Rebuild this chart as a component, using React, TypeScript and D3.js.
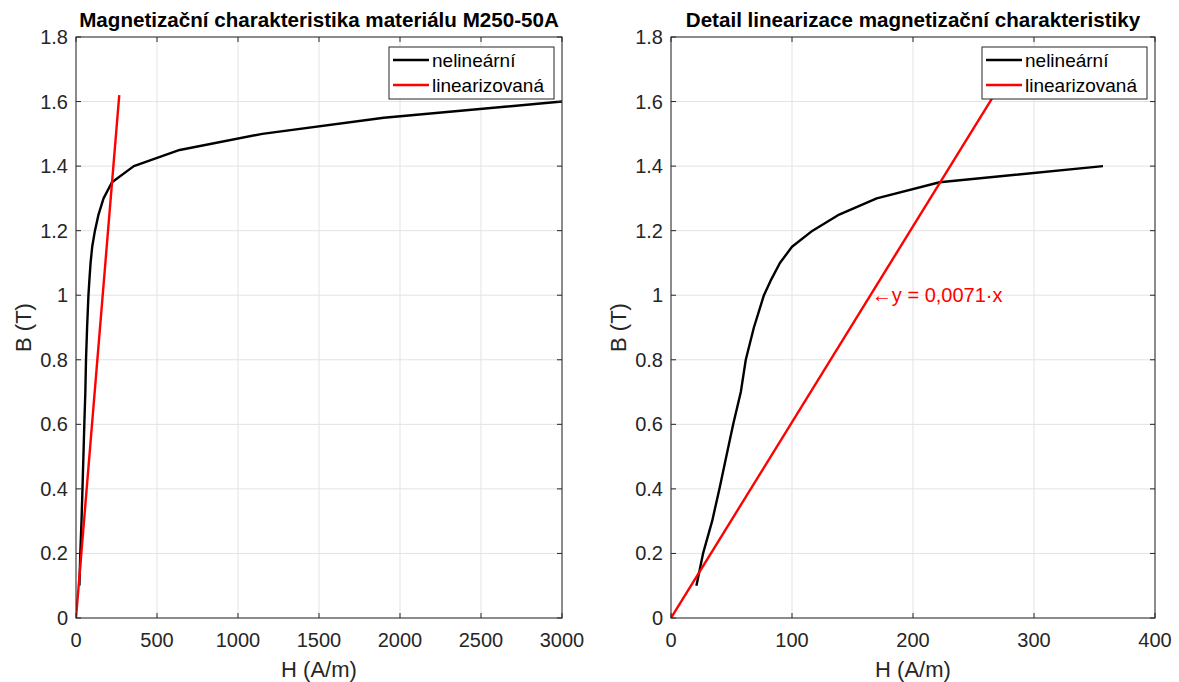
import React from 'react';
import * as d3 from 'd3';

// B-H curve of M250-50A
const hNonlin = [21, 26.5, 34, 40, 45.7, 51.4, 57.7, 61.8, 68.5, 76.8, 83, 90, 100, 117, 139, 170, 222, 357, 640, 1150, 1900, 3000];
const bNonlin = [0.1, 0.2, 0.3, 0.4, 0.5, 0.6, 0.7, 0.8, 0.9, 1.0, 1.05, 1.1, 1.15, 1.2, 1.25, 1.3, 1.35, 1.4, 1.45, 1.5, 1.55, 1.6];

// linearised characteristic
const hLin = [0, 267];
const bLin = [0, 1.62];

const bTicks = [0, 0.2, 0.4, 0.6, 0.8, 1, 1.2, 1.4, 1.6, 1.8];
const hTicksFull = [0, 500, 1000, 1500, 2000, 2500, 3000];
const hTicksDetail = [0, 100, 200, 300, 400];

const seriesNames = ['nelineární', 'linearizovaná'];
const seriesColors = ['#000000', '#ff0000'];
const titles = ['Magnetizační charakteristika materiálu M250-50A', 'Detail linearizace magnetizační charakteristiky'];
const xLabel = 'H (A/m)';
const yLabel = 'B (T)';
const noteText = '\u2190y = 0,0071\u00b7x';
const noteH = 166;
const noteB = 1;

const FONT = '"Liberation Sans", Arial, Helvetica, sans-serif';
const AXIS = '#262626';
const GRID = '#e3e3e3';

const top = 37;
const bottom = 618;

type Pt = [number, number];

const Panel = ({ left, right, hMax, hTicks, title, id, note }:
  { left: number; right: number; hMax: number; hTicks: number[]; title: string; id: string; note?: boolean }) => {
  const x = d3.scaleLinear().domain([0, hMax]).range([left, right]);
  const y = d3.scaleLinear().domain([0, 1.8]).range([bottom, top]);
  const line = d3.line<Pt>().x((d) => x(d[0])).y((d) => y(d[1]));

  const nonlin: Pt[] = hNonlin.map((h, i) => [h, bNonlin[i]] as Pt).filter((d) => d[0] <= hMax);
  const lin: Pt[] = hLin.map((h, i) => [h, bLin[i]] as Pt);
  const fmt = (v: number) => String(+v.toFixed(1));

  const legW = 165;
  const legX = right - 8 - legW;
  const legY = top + 10;
  const tick = 5;
  const cx = (left + right) / 2;

  return (
    <g>
      <defs>
        <clipPath id={id}>
          <rect x={left} y={top} width={right - left} height={bottom - top} />
        </clipPath>
      </defs>
      <rect x={left} y={top} width={right - left} height={bottom - top} fill="#fff" />
      {/* grid */}
      {hTicks.map((t) => (
        <line key={'gx' + t} x1={x(t)} x2={x(t)} y1={top} y2={bottom} stroke={GRID} strokeWidth={1} />
      ))}
      {bTicks.map((t) => (
        <line key={'gy' + t} x1={left} x2={right} y1={y(t)} y2={y(t)} stroke={GRID} strokeWidth={1} />
      ))}
      {/* data */}
      <g clipPath={`url(#${id})`}>
        <path d={line(nonlin) || ''} fill="none" stroke={seriesColors[0]} strokeWidth={2.4} strokeLinejoin="round" />
        <path d={line(lin) || ''} fill="none" stroke={seriesColors[1]} strokeWidth={2.4} />
      </g>
      {/* box + ticks */}
      <rect x={left} y={top} width={right - left} height={bottom - top} fill="none" stroke={AXIS} strokeWidth={1} />
      {hTicks.map((t) => (
        <g key={'tx' + t}>
          <line x1={x(t)} x2={x(t)} y1={bottom} y2={bottom - tick} stroke={AXIS} />
          <line x1={x(t)} x2={x(t)} y1={top} y2={top + tick} stroke={AXIS} />
          <text x={x(t)} y={647} textAnchor="middle" fontSize={20} fill={AXIS} fontFamily={FONT}>{t}</text>
        </g>
      ))}
      {bTicks.map((t) => (
        <g key={'ty' + t}>
          <line x1={left} x2={left + tick} y1={y(t)} y2={y(t)} stroke={AXIS} />
          <line x1={right} x2={right - tick} y1={y(t)} y2={y(t)} stroke={AXIS} />
          <text x={left - 8} y={y(t) + 7} textAnchor="end" fontSize={20} fill={AXIS} fontFamily={FONT}>{fmt(t)}</text>
        </g>
      ))}
      {/* labels */}
      <text x={cx} y={677} textAnchor="middle" fontSize={22} fill={AXIS} fontFamily={FONT}>{xLabel}</text>
      <text transform={`translate(${left - 45},${(top + bottom) / 2}) rotate(-90)`} textAnchor="middle" fontSize={22} fill={AXIS} fontFamily={FONT}>{yLabel}</text>
      <text x={cx} y={27} textAnchor="middle" fontSize={20.6} fontWeight="bold" fill="#000" fontFamily={FONT}>{title}</text>
      {note && (
        <text x={x(noteH)} y={y(noteB) + 7} fontSize={20} fill="#ff0000" fontFamily={FONT}>{noteText}</text>
      )}
      {/* legend */}
      <rect x={legX} y={legY} width={legW} height={52} fill="#fff" stroke={AXIS} strokeWidth={1} />
      {seriesNames.map((n, i) => (
        <g key={n}>
          <line x1={legX + 4} x2={legX + 40} y1={legY + 13 + i * 25} y2={legY + 13 + i * 25} stroke={seriesColors[i]} strokeWidth={2.4} />
          <text x={legX + 43} y={legY + 13 + i * 25 + 7} fontSize={19} fill="#000" fontFamily={FONT}>{n}</text>
        </g>
      ))}
    </g>
  );
};

export default function App() {
  return (
    <svg width={1179} height={682} style={{ position: 'absolute', left: 0, top: 0, background: '#fff' }}>
      <rect width={1179} height={682} fill="#fff" />
      <Panel left={76} right={562} hMax={3000} hTicks={hTicksFull} title={titles[0]} id="clipA" />
      <Panel left={671} right={1155} hMax={400} hTicks={hTicksDetail} title={titles[1]} id="clipB" note />
    </svg>
  );
}
